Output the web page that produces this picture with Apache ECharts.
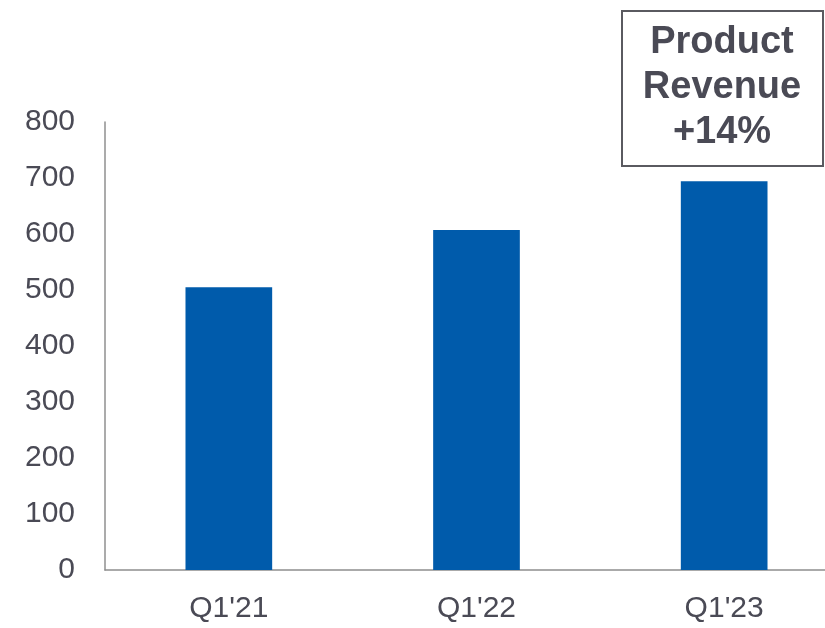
<!DOCTYPE html>
<html>
<head>
<meta charset="utf-8">
<script src="https://cdn.jsdelivr.net/npm/echarts@6/dist/echarts.min.js"></script>
<style>
	html, body { margin: 0; padding: 0; background: #fff; overflow: hidden; }
	/* plot area runs past the right edge of the window, as in the source slide */
	#chart { width: 848px; height: 628px; }
</style>
</head>
<body>
<div id="chart"></div>
<script>
// quarters and product revenue
var categories = ["Q1'21", "Q1'22", "Q1'23"];
var revenue = [505, 607, 694];
var yTicks = { min: 0, max: 800, interval: 100 };
var calloutLines = ["Product", "Revenue", "+14%"];

var textColor = "#4a4a55";
var chart = echarts.init(document.getElementById("chart"));

var option = {
	animation: false,
	grid: {
		left: 105,
		top: 122,
		bottom: 58,
		right: 0
	},
	xAxis: {
		type: "category",
		data: categories,
		axisLine: { lineStyle: { color: "#8f8f8f", width: 1.5 } },
		axisTick: { show: false },
		axisLabel: {
			color: textColor,
			fontFamily: "Liberation Sans",
			fontSize: 30,
			margin: 24
		}
	},
	yAxis: {
		type: "value",
		min: yTicks.min,
		max: yTicks.max,
		interval: yTicks.interval,
		splitLine: { show: false },
		axisLine: { show: true, lineStyle: { color: "#8f8f8f", width: 1.5 } },
		axisTick: { show: false },
		axisLabel: {
			color: textColor,
			fontFamily: "Liberation Sans",
			fontSize: 30,
			margin: 30
		}
	},
	series: [
		{
			type: "bar",
			data: revenue,
			barWidth: "35%",
			itemStyle: { color: "#005bab" }
		}
	],
	graphic: [
		{
			type: "rect",
			shape: { x: 622, y: 11, width: 201, height: 155 },
			style: { fill: "#fff", stroke: "#5a5a60", lineWidth: 2 }
		},
		{
			type: "text",
			x: 722,
			y: 88,
			style: {
				text: calloutLines.join("\n"),
				fill: textColor,
				font: "bold 38px 'Liberation Sans'",
				lineHeight: 45,
				align: "center",
				verticalAlign: "middle"
			}
		}
	]
};
chart.setOption(option);
</script>
</body>
</html>
